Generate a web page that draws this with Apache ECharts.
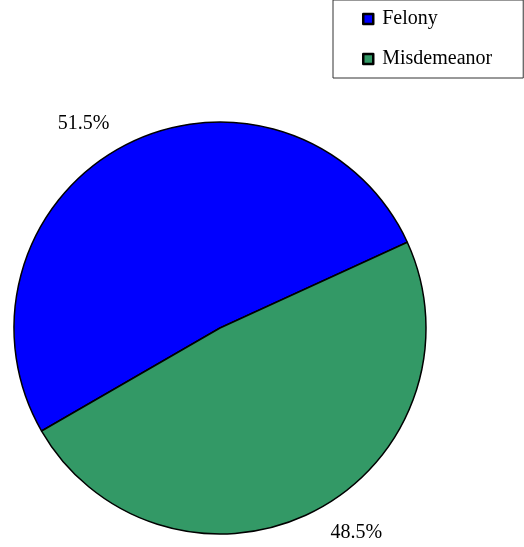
<!DOCTYPE html>
<html lang="en">
<head>
    <meta charset="UTF-8">
    <title>Felony vs Misdemeanor</title>
    <script src="https://cdn.jsdelivr.net/npm/echarts@6/dist/echarts.min.js"></script>
    <style>
        html, body { margin: 0; width: 100%; height: 100%; background: #fff; }
        #chart { width: 524px; height: 547px; }
    </style>
</head>
<body>
<div id="chart"></div>
<script>
    // categories and shares (%)
    var categories = ['Felony', 'Misdemeanor'];
    var shares = [51.5, 48.5];
    var colors = ['#0000ff', '#339966'];

    var chart = echarts.init(document.getElementById('chart'));

    var pieData = [];
    for (var i = 0; i < categories.length; i++) {
        pieData.push({ name: categories[i], value: shares[i], itemStyle: { color: colors[i] } });
    }

    var option = {
        animation: false,
        legend: {
            orient: 'vertical',
            left: 333,
            top: 0,
            padding: [9, 31, 9, 29],
            itemGap: 20,
            itemWidth: 10,
            itemHeight: 10,
            icon: 'rect',
            borderColor: '#333',
            borderWidth: 1,
            textStyle: { fontFamily: 'Liberation Serif', fontSize: 20, color: '#000', padding: [2, 0, 0, 4] },
            itemStyle: { borderColor: '#000', borderWidth: 2.5 },
            data: categories
        },
        series: [
            {
                type: 'pie',
                center: [220, 328],
                radius: 206,
                startAngle: 210,
                clockwise: true,
                silent: true,
                itemStyle: { borderColor: '#000', borderWidth: 1.5 },
                label: {
                    show: true,
                    position: 'outside',
                    fontFamily: 'Liberation Serif',
                    fontSize: 20,
                    color: '#000',
                    formatter: function (p) { return p.value.toFixed(1) + '%'; }
                },
                labelLine: { show: false, length: 24, length2: 0 },
                data: pieData
            }
        ]
    };
    chart.setOption(option);
</script>
</body>
</html>
